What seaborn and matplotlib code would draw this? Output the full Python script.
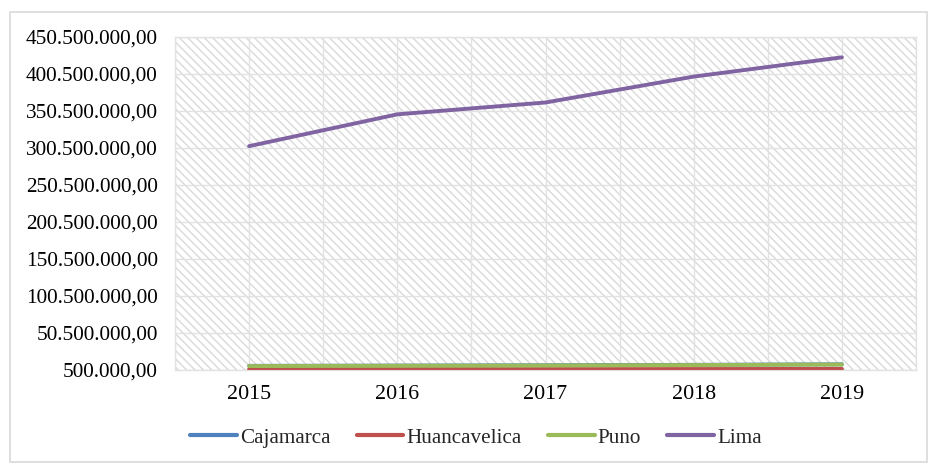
import matplotlib
matplotlib.use("Agg")
import matplotlib.pyplot as plt
import matplotlib.ticker as mticker
from matplotlib.patches import Rectangle
import pandas as pd
import seaborn as sns

# Data
years = [2015, 2016, 2017, 2018, 2019]
cajamarca = [6.1e6, 6.5e6, 6.9e6, 7.5e6, 8.2e6]
huancavelica = [1.5e6, 1.6e6, 1.7e6, 1.8e6, 2.0e6]
puno = [5.8e6, 6.2e6, 6.6e6, 7.2e6, 7.9e6]
lima = [303e6, 346e6, 362e6, 397e6, 423e6]
regions = ["Cajamarca", "Huancavelica", "Puno", "Lima"]
y_ticks = [500000 + 50000000 * i for i in range(10)]

colors = ["#4F81BD", "#C0504D", "#9BBB59", "#8064A2"]

df = pd.DataFrame({
    "year": years * 4,
    "value": cajamarca + huancavelica + puno + lima,
    "region": sum([[r] * len(years) for r in regions], []),
})

sns.set_theme(style="white")
plt.rcParams["font.family"] = ["Liberation Serif", "DejaVu Serif"]
plt.rcParams["hatch.linewidth"] = 1.0

fig = plt.figure(figsize=(9.32, 4.65), dpi=100)
ax = fig.add_axes([175 / 932, 1 - 370 / 465, (916 - 175) / 932, (370 - 37) / 465])

# hatched plot area
ax.add_patch(Rectangle((0, 0), 1, 1, transform=ax.transAxes, facecolor="white",
                       edgecolor="#d9d9d9", linewidth=0, hatch="\\\\\\\\", zorder=0))

sns.lineplot(data=df, x="year", y="value", hue="region", palette=colors,
             linewidth=2.8, ax=ax, legend=False, zorder=3)

ax.set_xlim(2014.5, 2019.5)
ax.set_ylim(y_ticks[0], y_ticks[-1])
ax.set_xticks(years)
ax.set_xticks([y + 0.5 for y in [2014] + years[:-1]] + [2019.5], minor=True)
ax.set_yticks(y_ticks)
ax.yaxis.set_major_formatter(mticker.FuncFormatter(
    lambda v, p: f"{v:,.2f}".replace(",", "X").replace(".", ",").replace("X", ".")))
ax.set_axisbelow(True)
ax.grid(True, which="both", color="#e2e2e2", linewidth=1.0, zorder=1)
ax.tick_params(axis="both", which="both", length=0, colors="black")
ax.tick_params(axis="x", labelsize=15.8, pad=11)
ax.tick_params(axis="y", labelsize=15.3, pad=12.5)
ax.set_xlabel("")
ax.set_ylabel("")
for s in ax.spines.values():
    s.set_color("#e2e2e2")
    s.set_linewidth(1.0)

# outer chart border
fig.add_artist(Rectangle((10 / 932, 3 / 465), 917 / 932, 450 / 465, transform=fig.transFigure,
                         facecolor="none", edgecolor="#d9d9d9", linewidth=1.2))

handles = [plt.Line2D([], [], color=c, linewidth=3) for c in colors]
fig.legend(handles, regions, loc="center", bbox_to_anchor=(476 / 932, 1 - 438 / 465), ncol=4,
           frameon=False, fontsize=15.2, handlelength=2.2, handletextpad=0.15,
           columnspacing=1.25)

fig.savefig("out.png", dpi=100)
